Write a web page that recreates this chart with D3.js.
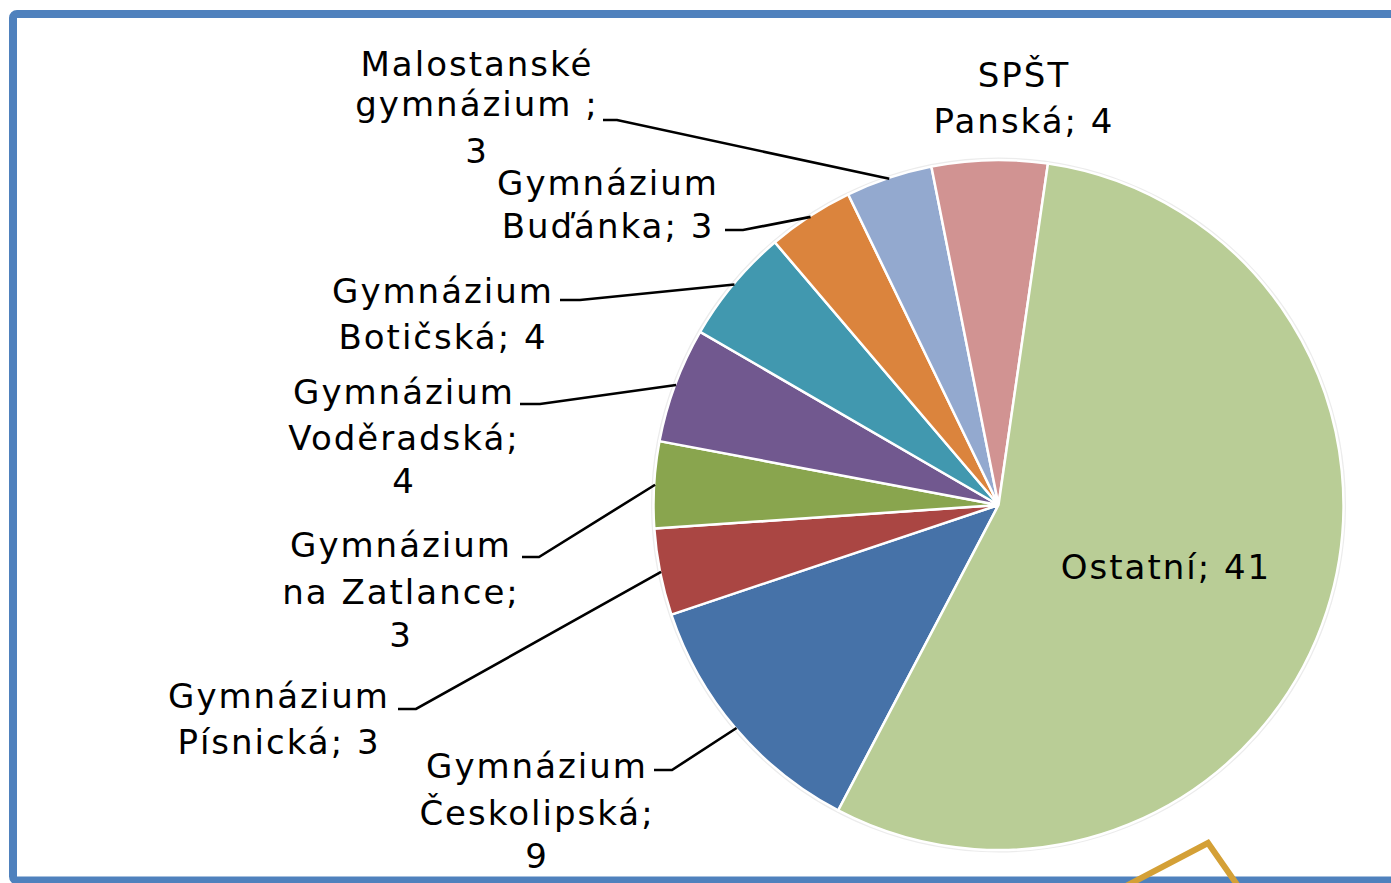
<!DOCTYPE html>
<html>
<head>
<meta charset="utf-8">
<script src="https://cdn.jsdelivr.net/npm/d3@7"></script>
<style>
  html, body { margin: 0; padding: 0; background: #fff; overflow: hidden; }
  svg { display: block; }
  text { font-family: "DejaVu Sans", Verdana, sans-serif; font-size: 34px; fill: #000; letter-spacing: 2px; }
</style>
</head>
<body>
<svg id="chart" width="1391" height="883"></svg>
<script>
// ---- data ----
const categories = [
  "Gymnázium Českolipská",
  "Gymnázium Písnická",
  "Gymnázium na Zatlance",
  "Gymnázium Voděradská",
  "Gymnázium Botičská",
  "Gymnázium Buďánka",
  "Malostanské gymnázium",
  "SPŠT Panská",
  "Ostatní"
];
const values = [9, 3, 3, 4, 4, 3, 3, 4, 41];
const colors = ["#4672A8", "#AA4643", "#89A54E", "#71588F", "#4198AF", "#DB843D", "#93A9CF", "#D19392", "#B9CD96"];

// label line breaks (text only)
const labelLines = [
  ["Gymnázium", "Českolipská;", "9"],
  ["Gymnázium", "Písnická; 3"],
  ["Gymnázium", "na Zatlance;", "3"],
  ["Gymnázium", "Voděradská;", "4"],
  ["Gymnázium", "Botičská; 4"],
  ["Gymnázium", "Buďánka; 3"],
  ["Malostanské", "gymnázium ;", "3"],
  ["SPŠT", "Panská; 4"],
  ["Ostatní; 41"]
];

// ---- layout ----
const W = 1391, H = 883;
const cx = 998.5, cy = 505, R = 345;
const startDeg = 207.7;

// label placement: centre x, baselines, leader horizontal segment [x0, x1, y] (null = none)
const labelLayout = [
  { x: 537, ys: [778, 825, 868], leader: [654, 672, 770] },
  { x: 279, ys: [708, 754], leader: [398, 416, 709] },
  { x: 401, ys: [557, 604, 647], leader: [522, 539, 557] },
  { x: 404, ys: [404, 450, 493], leader: [520, 540, 404] },
  { x: 443, ys: [303, 349], leader: [560, 580, 300] },
  { x: 608, ys: [195, 238], leader: [725, 743, 230] },
  { x: 477, ys: [76, 116, 163], leader: [603, 617, 120] },
  { x: 1024, ys: [87, 133], leader: null },
  { x: 1166, ys: [579], leader: null }
];

const svg = d3.select("#chart");
svg.append("rect").attr("width", W).attr("height", H).attr("fill", "#fff");

const g = svg.append("g").attr("transform", `translate(${cx},${cy})`);

const pie = d3.pie().sort(null).value(d => d)
  .startAngle(startDeg * Math.PI / 180)
  .endAngle(startDeg * Math.PI / 180 + 2 * Math.PI);
const arcs = pie(values);
const arc = d3.arc().innerRadius(0).outerRadius(R);
const edgeArc = d3.arc().innerRadius(R - 1).outerRadius(R - 1);

// faint outer halo
g.append("circle").attr("r", R + 1).attr("fill", "none").attr("stroke", "#ececec").attr("stroke-width", 3);

g.selectAll("path.slice").data(arcs).join("path")
  .attr("class", "slice")
  .attr("d", arc)
  .attr("fill", (d, i) => colors[i])
  .attr("stroke", "#fff")
  .attr("stroke-width", 2.5)
  .attr("stroke-linejoin", "round");

// leader lines
const leaders = svg.append("g");
arcs.forEach((a, i) => {
  const L = labelLayout[i].leader;
  if (!L) return;
  const [ex, ey] = edgeArc.centroid(a);
  leaders.append("path")
    .attr("d", d3.line()([[L[0], L[2]], [L[1], L[2]], [cx + ex, cy + ey]]))
    .attr("fill", "none")
    .attr("stroke", "#000")
    .attr("stroke-width", 2.6);
});

// labels
const labels = svg.append("g");
labelLines.forEach((lines, i) => {
  const lay = labelLayout[i];
  const t = labels.append("text").attr("text-anchor", "middle");
  lines.forEach((s, j) => {
    t.append("tspan").attr("x", lay.x).attr("y", lay.ys[j]).text(s);
  });
});

// frame
svg.append("rect")
  .attr("x", 13).attr("y", 14)
  .attr("width", W + 20).attr("height", 866.5)
  .attr("rx", 4)
  .attr("fill", "none")
  .attr("stroke", "#4F81BD")
  .attr("stroke-width", 8);

// partial gold shape at the bottom right
svg.append("path")
  .attr("d", d3.line()([[1126, 886], [1208, 843], [1238, 886]]))
  .attr("fill", "none")
  .attr("stroke", "#D4A036")
  .attr("stroke-width", 6)
  .attr("stroke-linejoin", "miter");
</script>
</body>
</html>
